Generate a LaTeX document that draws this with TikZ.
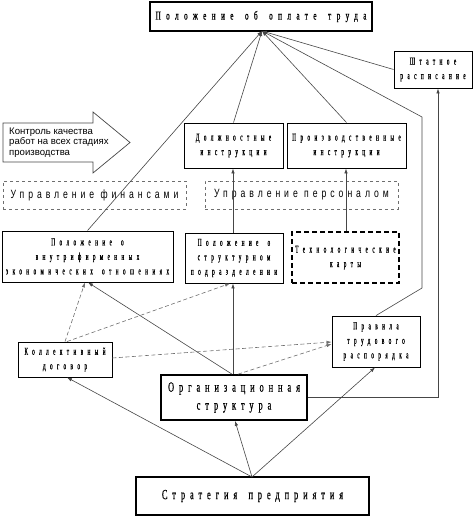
\documentclass[tikz,border=0pt]{standalone}
\usepackage{fontspec}
\usetikzlibrary{arrows.meta,calc}
\newfontfamily\cserS[FakeStretch=0.5,FakeBold=0.6,LetterSpace=42,WordSpace=1.6]{Liberation Serif}
\newfontfamily\cserT[FakeStretch=0.6,FakeBold=0.8,LetterSpace=45,WordSpace=1.6]{Liberation Serif}
\newfontfamily\cserB[FakeStretch=0.6,FakeBold=0.6,LetterSpace=35,WordSpace=1.6]{Liberation Serif}
\newfontfamily\csans[FakeStretch=0.72,LetterSpace=33]{Liberation Sans}
\setmainfont{Liberation Sans}
\definecolor{lg}{RGB}{110,110,110}
\definecolor{dg}{RGB}{70,70,70}
\begin{document}
\begin{tikzpicture}[x=1pt,y=-1pt,
  box/.style={draw=black,line width=0.9pt,rectangle,inner sep=0pt,align=center,font=\cserS\fontsize{10.5}{14.5}\selectfont},
  bigbox/.style={box,line width=1.7pt},
  dbox/.style={draw=lg,dashed,line width=0.7pt,rectangle,inner sep=0pt,font=\csans\fontsize{12}{14}\selectfont},
  con/.style={draw=dg,line width=0.6pt,-{Latex[length=5pt,width=3.5pt]}},
  dcon/.style={draw=lg,line width=0.6pt,dash pattern=on 4pt off 2.5pt,-{Latex[length=5pt,width=3.5pt]}},
  ln/.style={draw=dg,line width=0.6pt}]
\useasboundingbox (0,0) rectangle (474,518);
% nodes
\node[bigbox,minimum width=222,minimum height=29,font=\cserT\fontsize{12}{14}\selectfont] (top) at (261,16.5) {Положение об оплате труда};
\node[box,minimum width=78,minimum height=37] (shtat) at (433,69.5) {Штатное\\расписание};
\node[box,minimum width=99,minimum height=45] (dolzh) at (233.5,145.5) {Должностные\\инструкции};
\node[box,minimum width=119,minimum height=45] (proizv) at (346.5,145.5) {Производственные\\инструкции};
\draw[line width=0.7pt,draw=dg] (3,123) -- (93,123) -- (93,112) -- (130,142.5) -- (93,173) -- (93,162) -- (3,162) -- cycle;
\node[anchor=west,align=left,inner sep=0pt,font=\fontsize{9.6}{10.3}\selectfont] (ctrl) at (9,142.5) {Контроль качества\\работ на всех стадиях\\производства};
\node[dbox,minimum width=183,minimum height=28] (fin) at (94.5,195) {Управление финансами};
\node[dbox,minimum width=193,minimum height=28] (pers) at (301.5,195) {Управление персоналом};
\node[box,minimum width=171,minimum height=51] (vnutr) at (87.5,256.5) {Положение о\\внутрифирменных\\экономических отношениях};
\node[box,minimum width=98,minimum height=50] (struct) at (234,258) {Положение о\\структурном\\подразделении};
\node[box,dash pattern=on 5pt off 3pt,line width=1.5pt,minimum width=107,minimum height=51] (tech) at (345.5,257.5) {Технологические\\карты};
\node[box,minimum width=94,minimum height=35] (koll) at (65,359.5) {Коллективный\\договор};
\node[box,minimum width=88,minimum height=51] (prav) at (376,341.5) {Правила\\трудового\\распорядка};
\node[bigbox,minimum width=146,minimum height=45,font=\cserB\fontsize{14}{18}\selectfont] (org) at (234,397.5) {Организационная\\структура};
\node[bigbox,minimum width=233,minimum height=38,font=\cserB\fontsize{14}{16}\selectfont] (strat) at (252.5,496) {Стратегия предприятия};
% coordinates
\coordinate (tp) at (262,31);
\coordinate (pr1) at (422,288);
\coordinate (pr2) at (422,117);
\coordinate (sc) at (438,397.5);
\coordinate (st) at (252,477);
% connectors to top
\draw[con] (vnutr.north) -- (tp);
\draw[con] (dolzh.north) -- (tp);
\draw[con] (proizv.north) -- (tp);
\draw[con] (prav.north) -- (pr1) -- (pr2) -- (tp);
\draw[con] (shtat.west) -- (tp);
\draw[con] (org.east) -- (sc) -- (sc |- shtat.south);
\draw[con] (struct.north -| 233,0) -- (dolzh.south -| 233,0);
\draw[con] (tech.north -| 346,0) -- (proizv.south -| 346,0);
\draw[con] (org.north -| 233,0) -- (struct.south -| 233,0);
\draw[con] (org.north -| 232,0) -- (vnutr.south -| 88,0);
\draw[con] (st) -- (koll.south -| 67,0);
\draw[con] (st) -- (org.south -| 235,0);
\draw[con] (st) -- (prav.south -| 375,0);
\draw[dcon] (koll.north -| 65,0) -- (vnutr.south -| 85,0);
\draw[dcon] (koll.north -| 67,0) -- (struct.south -| 230,0);
\draw[dcon] (koll.east |- 0,358) -- (prav.west |- 0,342);
\draw[dcon] (org.north -| 238,0) -- (prav.west |- 0,344);
\end{tikzpicture}
\end{document}
